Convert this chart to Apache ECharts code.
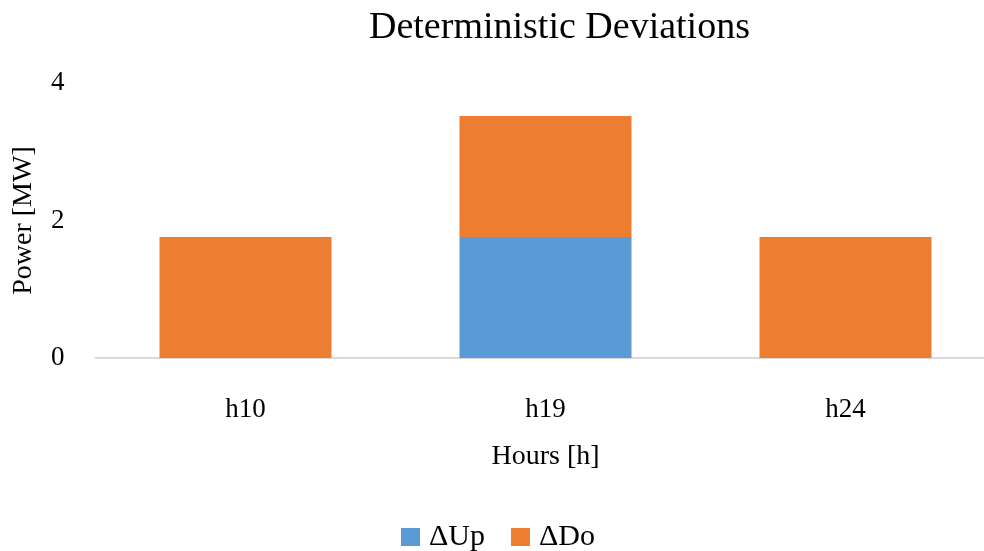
<!DOCTYPE html>
<html>
<head>
<meta charset="utf-8">
<script src="https://cdn.jsdelivr.net/npm/echarts@6/dist/echarts.min.js"></script>
<style>html,body{margin:0;padding:0;background:#fff;overflow:hidden}#c{width:984px;height:551px}</style>
</head>
<body>
<div id="c"></div>
<script>
const categories = ['h10', 'h19', 'h24'];
const upValues = [0, 1.76, 0];
const doValues = [1.76, 1.76, 1.76];
const yTicks = [0, 2, 4];

const F = '"Liberation Serif", "DejaVu Serif", serif';
const chart = echarts.init(document.getElementById('c'));
chart.setOption({
  animation: false,
  backgroundColor: '#ffffff',
  title: {
    text: 'Deterministic Deviations',
    left: 364, top: 4,
    textStyle: { fontFamily: F, fontSize: 38, fontWeight: 'normal', color: '#000' }
  },
  legend: {
    data: ['ΔUp', 'ΔDo'],
    left: 396, top: 517,
    icon: 'rect', itemWidth: 19, itemHeight: 18, itemGap: 26,
    textStyle: { fontFamily: F, fontSize: 30, color: '#000', padding: [0, 0, 0, 4] }
  },
  grid: { left: 95.5, top: 83, width: 900, height: 275, containLabel: false, outerBoundsMode: 'none' },
  xAxis: {
    type: 'category',
    data: categories,
    name: 'Hours [h]', nameLocation: 'middle', nameGap: 85,
    nameTextStyle: { fontFamily: F, fontSize: 28, color: '#000', verticalAlign: 'top' },
    axisLine: { lineStyle: { color: '#D9D9D9', width: 2 } },
    axisTick: { show: false },
    axisLabel: { fontFamily: F, fontSize: 27, color: '#000', margin: 38 }
  },
  yAxis: {
    type: 'value', min: yTicks[0], max: yTicks[yTicks.length - 1], interval: yTicks[1] - yTicks[0],
    name: 'Power [MW]', nameLocation: 'middle', nameGap: 58,
    nameTextStyle: { fontFamily: F, fontSize: 28, color: '#000' },
    axisLine: { show: false }, axisTick: { show: false },
    splitLine: { show: false },
    axisLabel: { fontFamily: F, fontSize: 27, color: '#000', margin: 31 }
  },
  series: [
    { name: 'ΔUp', type: 'bar', stack: 's', data: upValues, barWidth: 172, itemStyle: { color: '#5B9BD5' } },
    { name: 'ΔDo', type: 'bar', stack: 's', data: doValues, barWidth: 172, itemStyle: { color: '#ED7D31' } }
  ]
});
</script>
</body>
</html>
